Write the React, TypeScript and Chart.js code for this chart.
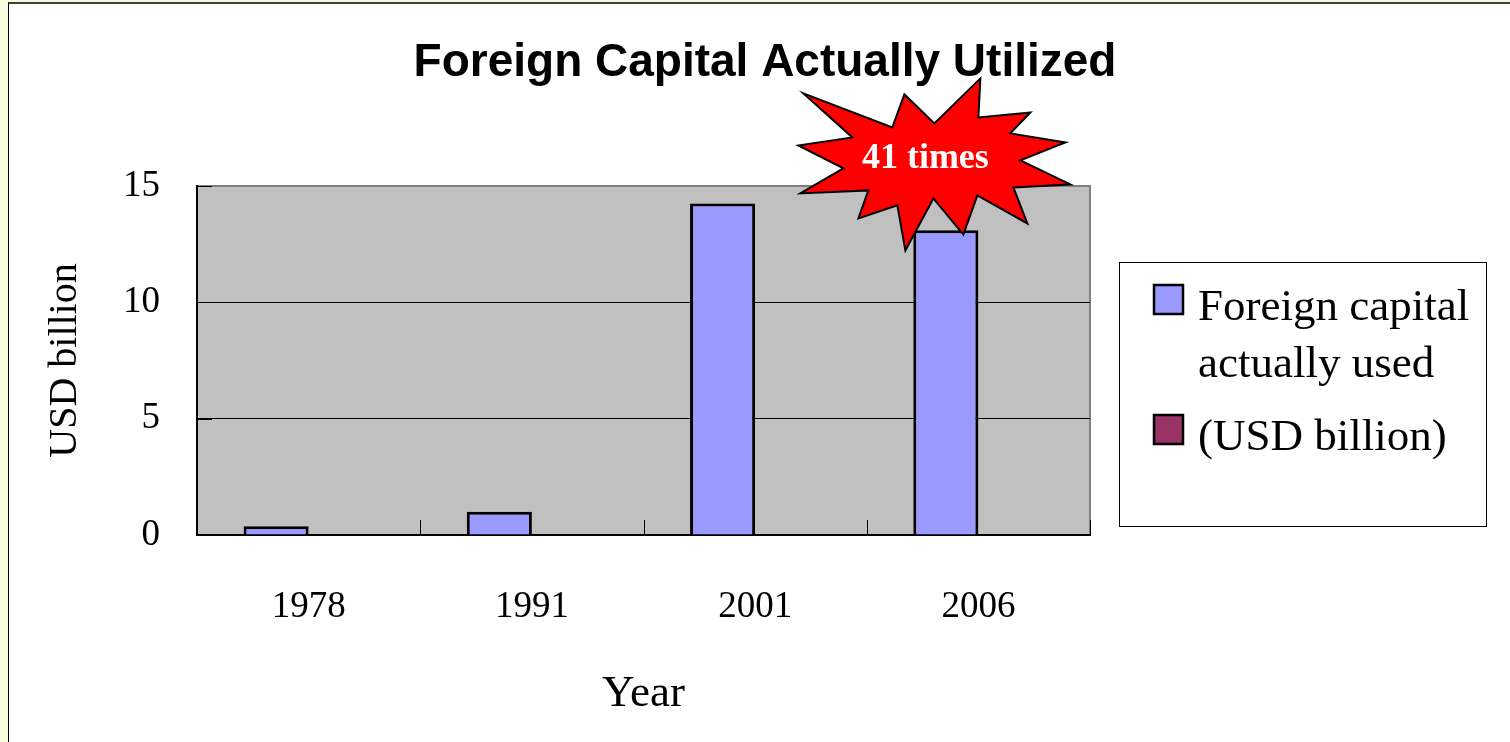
import React, { useEffect, useRef } from "react";
import { Chart, registerables } from "chart.js";

Chart.register(...registerables);

// ---- data ----
const chartTitle = "Foreign Capital Actually Utilized";
const years = ["1978", "1991", "2001", "2006"];
const foreignCapitalUsed = [0.38, 1.0, 14.25, 13.1];
const usdBillionSeries: (number | null)[] = [null, null, null, null];
const seriesLabels = ["Foreign capital actually used", "(USD billion)"];
const yTickValues = [0, 5, 10, 15];
const yAxisTitle = "USD billion";
const xAxisTitle = "Year";
const calloutText = "41 times";
const calloutCategory = 3;
const calloutValue = 16.1;

// ---- styles ----
const SERIF = '"Liberation Serif", "Times New Roman", serif';
const SANS = '"Liberation Sans", Arial, sans-serif';
const STAR_POINTS: [number, number][] = [
  [-132, -67], [-43, -33], [-31, -66], [-1, -37], [45, -82], [43, -43],
  [95, -48], [75, -27], [130, -18], [85, 0], [135, 24], [78, 27],
  [92, 63], [42, 35], [28, 74], [-2, 38], [-30, 90], [-38, 45],
  [-77, 58], [-67, 30], [-135, 33], [-92, 8], [-137, -15], [-83, -23],
];

const plotBgPlugin = {
  id: "plotBg",
  beforeDraw(chart: any) {
    const { ctx, chartArea: a } = chart;
    ctx.save();
    ctx.fillStyle = "#c0c0c0";
    ctx.fillRect(a.left, a.top, a.right - a.left, a.bottom - a.top);
    ctx.strokeStyle = "#808080";
    ctx.lineWidth = 2;
    ctx.strokeRect(a.left, a.top, a.right - a.left, a.bottom - a.top);
    ctx.restore();
    // chart title
    ctx.save();
    ctx.font = `bold 46px ${SANS}`;
    ctx.fillStyle = "#000";
    ctx.textAlign = "center";
    ctx.textBaseline = "alphabetic";
    ctx.fillText(chartTitle, 765, 76);
    ctx.restore();
  },
};

const innerTicksPlugin = {
  id: "innerTicks",
  beforeDatasetsDraw(chart: any) {
    const { ctx, chartArea: a, scales } = chart;
    const xs = scales.x;
    const ys = scales.y;
    ctx.save();
    ctx.strokeStyle = "#000";
    ctx.lineWidth = 1;
    const n = chart.data.labels.length;
    const w = (a.right - a.left) / n;
    for (let i = 1; i <= n; i++) {
      const x = Math.round(xs.getPixelForValue(i - 1) + w / 2) + 0.5;
      ctx.beginPath();
      ctx.moveTo(x, a.bottom);
      ctx.lineTo(x, a.bottom - 15);
      ctx.stroke();
    }
    for (const v of yTickValues) {
      const y = Math.round(ys.getPixelForValue(v)) + 0.5;
      ctx.beginPath();
      ctx.moveTo(a.left, y);
      ctx.lineTo(a.left + 15, y);
      ctx.stroke();
    }
    ctx.restore();
  },
};

const starPlugin = {
  id: "star",
  afterDatasetsDraw(chart: any) {
    const { ctx, scales } = chart;
    const cx = scales.x.getPixelForValue(calloutCategory) - 43;
    const cy = scales.y.getPixelForValue(calloutValue);
    ctx.save();
    ctx.beginPath();
    STAR_POINTS.forEach(([dx, dy], i) => {
      if (i === 0) ctx.moveTo(cx + dx, cy + dy);
      else ctx.lineTo(cx + dx, cy + dy);
    });
    ctx.closePath();
    ctx.fillStyle = "#ff0000";
    ctx.fill();
    ctx.strokeStyle = "#000";
    ctx.lineWidth = 2;
    ctx.lineJoin = "miter";
    ctx.stroke();
    ctx.font = `bold 36px ${SERIF}`;
    ctx.fillStyle = "#fff";
    ctx.textAlign = "center";
    ctx.textBaseline = "middle";
    ctx.fillText(calloutText, cx - 10, cy - 2);
    ctx.restore();
  },
};

function wrapText(ctx: CanvasRenderingContext2D, text: string, maxW: number) {
  const words = text.split(" ");
  const lines: string[] = [];
  let cur = "";
  for (const w of words) {
    const t = cur ? cur + " " + w : w;
    if (ctx.measureText(t).width > maxW && cur) {
      lines.push(cur);
      cur = w;
    } else cur = t;
  }
  if (cur) lines.push(cur);
  return lines;
}

const boxLegendPlugin = {
  id: "boxLegend",
  afterDraw(chart: any) {
    const { ctx, chartArea: a } = chart;
    const x0 = a.right + 29;
    const y0 = a.top + 76;
    const w = 367;
    const h = 264;
    ctx.save();
    ctx.fillStyle = "#fff";
    ctx.fillRect(x0, y0, w, h);
    ctx.strokeStyle = "#000";
    ctx.lineWidth = 1;
    ctx.strokeRect(x0 + 0.5, y0 + 0.5, w, h);
    ctx.font = `45px ${SERIF}`;
    ctx.textAlign = "left";
    ctx.textBaseline = "alphabetic";
    let base = y0 + 58;
    chart.data.datasets.forEach((ds: any) => {
      const lines = wrapText(ctx, ds.label, 290);
      ctx.fillStyle = ds.backgroundColor;
      ctx.fillRect(x0 + 35, base - 35, 29, 29);
      ctx.strokeStyle = "#000";
      ctx.lineWidth = 2.5;
      ctx.strokeRect(x0 + 35, base - 35, 29, 29);
      ctx.fillStyle = "#000";
      lines.forEach((ln: string, i: number) => {
        ctx.fillText(ln, x0 + 79, base + i * 57);
      });
      base += (lines.length - 1) * 57 + 73;
    });
    ctx.restore();
  },
};

export default function App() {
  const canvasRef = useRef<HTMLCanvasElement | null>(null);

  useEffect(() => {
    const canvas = canvasRef.current;
    if (!canvas) return;
    const chart = new Chart(canvas, {
      type: "bar",
      data: {
        labels: years,
        datasets: [
          {
            label: seriesLabels[0],
            data: foreignCapitalUsed,
            backgroundColor: "#9999ff",
            borderColor: "#000",
            borderWidth: 3,
            categoryPercentage: 0.583,
            barPercentage: 1.0,
          },
          {
            label: seriesLabels[1],
            data: usdBillionSeries,
            backgroundColor: "#993366",
            borderColor: "#000",
            borderWidth: 3,
            categoryPercentage: 0.583,
            barPercentage: 1.0,
          },
        ],
      },
      options: {
        responsive: false,
        animation: false,
        devicePixelRatio: 1,
        events: [],
        layout: { padding: { left: 0, top: 186, right: 420, bottom: 0 } },
        plugins: {
          legend: { display: false },
          title: { display: false },
          tooltip: { enabled: false },
        },
        scales: {
          x: {
            grid: { display: false, drawTicks: false },
            border: { display: true, color: "#000", width: 2 },
            ticks: {
              color: "#000",
              font: { family: SERIF, size: 37 },
              padding: 50,
              maxRotation: 0,
              autoSkip: false,
            },
            title: {
              display: true,
              text: xAxisTitle,
              color: "#000",
              font: { family: SERIF, size: 45 },
              padding: { top: 0, bottom: 21 },
            },
            afterFit: (s: any) => {
              s.height = 207;
            },
          },
          y: {
            min: 0,
            max: 15,
            grid: {
              drawTicks: false,
              lineWidth: 1,
              color: (c: any) =>
                c.tick && c.tick.value > 0 && c.tick.value < 15 ? "#000" : "rgba(0,0,0,0)",
            },
            border: { display: true, color: "#000", width: 2 },
            ticks: {
              color: "#000",
              font: { family: SERIF, size: 37 },
              padding: 37,
            },
            afterBuildTicks: (s: any) => {
              s.ticks = yTickValues.map((v) => ({ value: v }));
            },
            title: {
              display: true,
              text: yAxisTitle,
              color: "#000",
              font: { family: SERIF, size: 40 },
              padding: { top: 41, bottom: 0 },
            },
            afterFit: (s: any) => {
              s.width = 197;
            },
          },
        },
      },
      plugins: [plotBgPlugin, innerTicksPlugin, starPlugin, boxLegendPlugin],
    });
    return () => chart.destroy();
  }, []);

  return (
    <div style={{ position: "fixed", left: 0, top: 0, width: 1510, height: 742, background: "#f9fcdc", overflow: "hidden" }}>
      <div
        style={{
          position: "absolute",
          left: 8,
          top: 2,
          right: 0,
          bottom: 0,
          background: "#fff",
          borderLeft: "1px solid #000",
          borderTop: "2px solid #404040",
        }}
      />
      <canvas ref={canvasRef} width={1510} height={742} style={{ position: "absolute", left: 0, top: 0 }} />
    </div>
  );
}
